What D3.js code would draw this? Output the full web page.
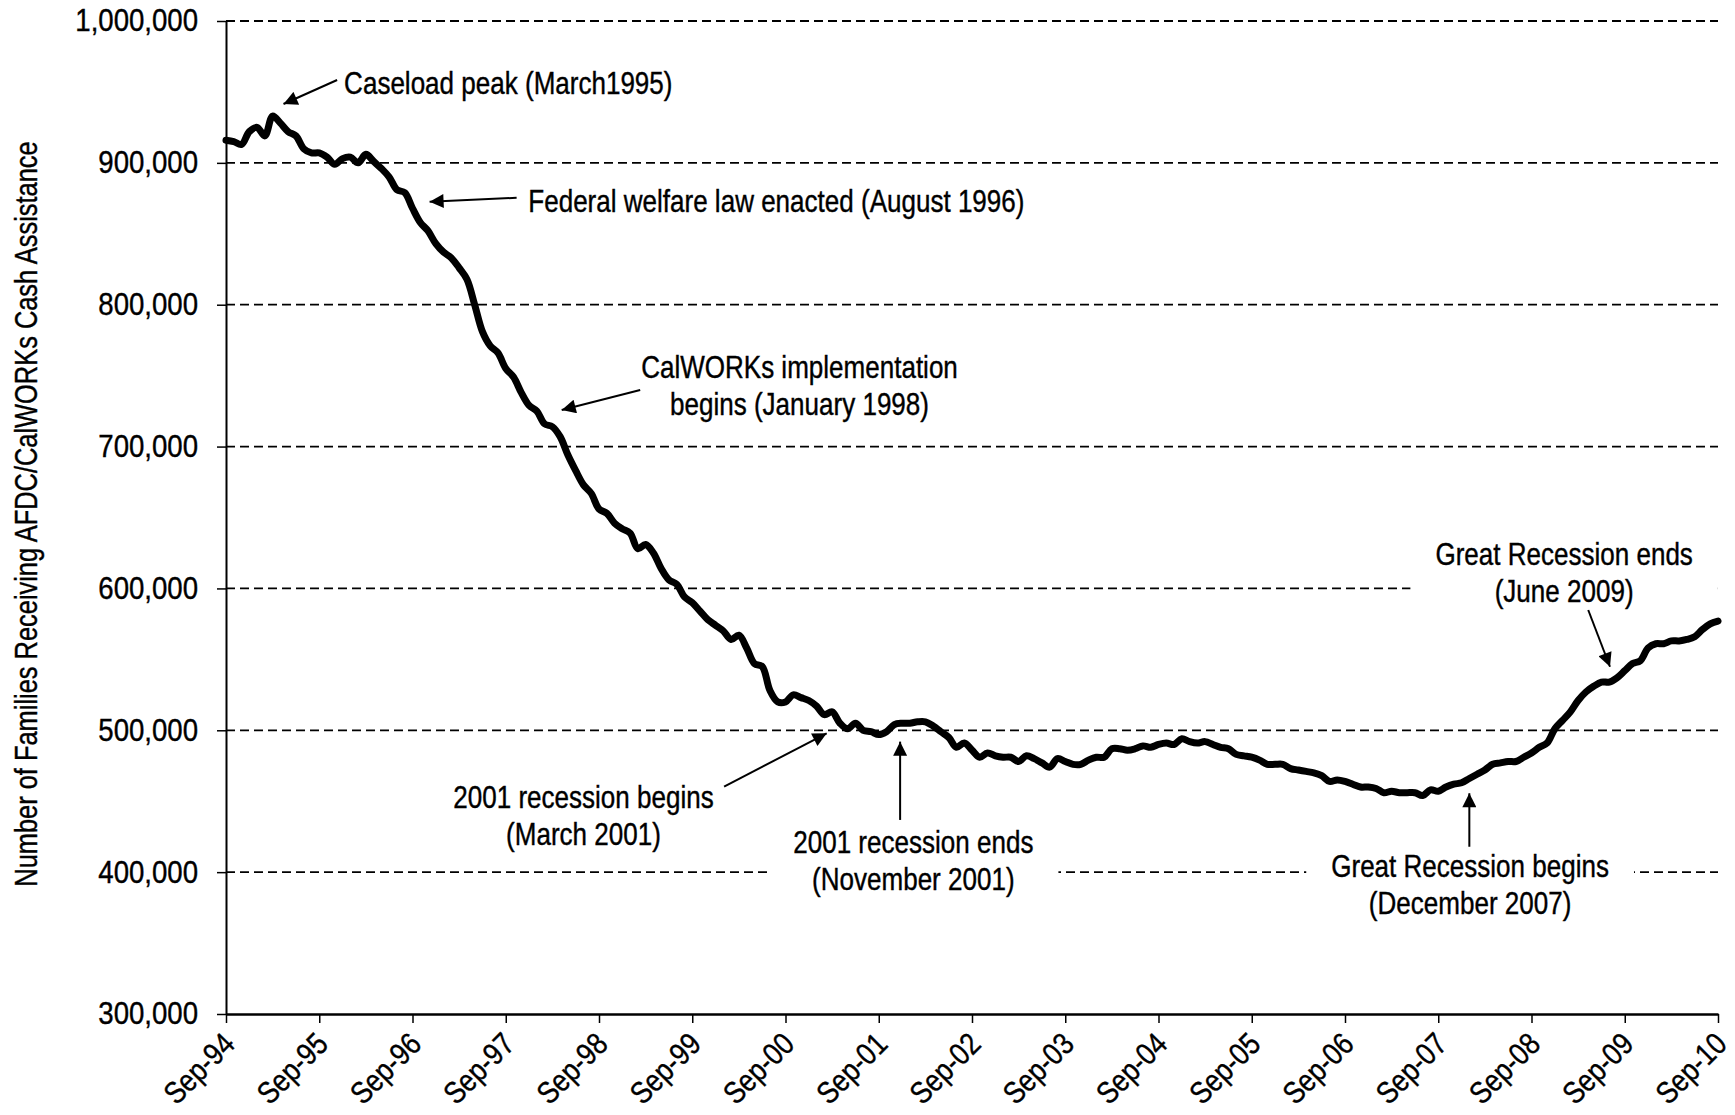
<!DOCTYPE html>
<head>
<meta charset="utf-8">
<script src="https://d3js.org/d3.v7.min.js"></script>
</head>
<style>
body { margin: 0; background: #fff; }
text { font-family: "Liberation Sans Narrow", "Arial Narrow", "Liberation Sans", sans-serif; fill: #000; font-size: 31px;
       stroke: #000; stroke-width: 0.4px; }
.grid line { stroke: #000; stroke-width: 1.8px; stroke-dasharray: 9,5; }
.line { fill: none; stroke: #000; stroke-width: 7px; stroke-linejoin: round; stroke-linecap: round; }
.arrow { stroke: #000; stroke-width: 2px; }
.axis path, .axis line { stroke: #000; }
</style>
<body>
<script>
// families on AFDC/CalWORKs, monthly from Sep-94 to Sep-10 (thousands)
var caseload = [
  916, 915, 913, 922, 925, 919, 933, 928, 922, 919, 910, 907,
  907, 904, 899, 903, 904, 900, 906, 901, 896, 890, 881, 879,
  868, 858, 852, 843, 837, 833, 826, 818, 800, 781, 771, 766,
  755, 749, 738, 729, 725, 716, 714, 707, 694, 683, 673, 667,
  656, 653, 646, 642, 639, 628, 631, 625, 614, 606, 603, 594,
  590, 584, 578, 574, 570, 564, 567, 558, 547, 545, 528, 520,
  520, 525, 523, 521, 517, 511, 513, 505, 501, 505, 500, 499,
  497, 499, 504, 505, 505, 506, 506, 503, 499, 495, 488, 491,
  486, 481, 484, 482, 481, 481, 478, 482, 480, 477, 474, 480,
  478, 476, 476, 479, 481, 481, 487, 487, 486, 487, 489, 488,
  490, 491, 490, 494, 492, 491, 492, 490, 488, 487, 483, 482,
  481, 479, 476, 476, 476, 473, 472, 471, 470, 468, 464, 465,
  464, 462, 460, 460, 459, 456, 457, 456, 456, 456, 454, 458,
  457, 460, 462, 463, 466, 469, 472, 476, 477, 478, 478, 481,
  484, 488, 491, 501, 507, 513, 521, 527, 531, 534, 534, 537,
  542, 547, 549, 558, 561, 561, 563, 563, 564, 566, 571, 575,
  577
];
var tickLabels = ["Sep-94","Sep-95","Sep-96","Sep-97","Sep-98","Sep-99","Sep-00","Sep-01","Sep-02",
                  "Sep-03","Sep-04","Sep-05","Sep-06","Sep-07","Sep-08","Sep-09","Sep-10"];
var yTicks = [300000, 400000, 500000, 600000, 700000, 800000, 900000, 1000000];

// annotations: month index / value of text and arrow
var notes = [
  {lines: ["Caseload peak (March1995)"], m: 15.2, v: 948200, anchor: "start", box: false,
   from: [14.3, 958400], to: [7.4, 941500]},
  {lines: ["Federal welfare law enacted (August 1996)"], m: 38.9, v: 865200, anchor: "start", box: false,
   from: [37.4, 875400], to: [26.2, 872600]},
  {lines: ["CalWORKs implementation", "begins (January 1998)"], m: 73.8, v: 748300, anchor: "middle", box: false,
   from: [53.3, 739900], to: [43.2, 725800]},
  {lines: ["2001 recession begins", "(March 2001)"], m: 46.0, v: 445500, anchor: "middle", box: false,
   from: [64.1, 460300], to: [77.3, 497900]},
  {lines: ["2001 recession ends", "(November 2001)"], m: 88.45, v: 413200, anchor: "middle", box: true,
   from: [86.75, 436800], to: [86.75, 492000]},
  {lines: ["Great Recession begins", "(December 2007)"], m: 160.1, v: 396300, anchor: "middle", box: true,
   from: [160, 417900], to: [160, 455600]},
  {lines: ["Great Recession ends", "(June 2009)"], m: 172.2, v: 616500, anchor: "middle", box: true,
   from: [175.3, 584800], to: [178.1, 544800]}
];

var W = 1735, H = 1115;
var margin = {top: 21, right: 17, bottom: 101, left: 226},
    width = W - margin.left - margin.right,
    height = H - margin.top - margin.bottom;

// the original type is a condensed face; squeeze the installed sans to match
var narrowNote = 0.84, narrowNum = 0.89, narrowTick = 0.85, narrowTitle = 0.82;

var x = d3.scaleLinear().domain([0, caseload.length - 1]).range([0, width]);
var y = d3.scaleLinear().domain([300000, 1000000]).range([height, 0]);

var svg = d3.select("body").append("svg")
    .attr("width", W)
    .attr("height", H)
  .append("g")
    .attr("transform", "translate(" + margin.left + "," + margin.top + ")");

// dashed gridlines
svg.append("g").attr("class", "grid")
  .selectAll("line")
  .data(yTicks.filter(function(d) { return d > 300000; }))
  .enter().append("line")
    .attr("x1", 0).attr("x2", width)
    .attr("y1", function(d) { return y(d); })
    .attr("y2", function(d) { return y(d); });

// annotation text, some with a white box that hides the gridline
var lineH = 37;
var noteG = svg.append("g");
notes.forEach(function(n) {
  var g = noteG.append("g")
      .attr("transform", "translate(" + x(n.m) + "," + y(n.v) + ")");
  var t = g.append("text")
      .attr("transform", "scale(" + narrowNote + ",1)")
      .attr("text-anchor", n.anchor);
  t.selectAll("tspan").data(n.lines).enter().append("tspan")
      .attr("x", 0)
      .attr("dy", function(d, i) { return i ? lineH : 0; })
      .text(function(d) { return d; });
  if (n.box) {
    var bb = g.node().getBBox();
    g.insert("rect", "text")
      .attr("x", bb.x - 25).attr("y", bb.y - 4)
      .attr("width", bb.width + 50).attr("height", bb.height + 8)
      .attr("fill", "#fff");
  }
});

// arrows
svg.append("defs").append("marker")
    .attr("id", "head")
    .attr("viewBox", "0 0 10 10")
    .attr("refX", 10).attr("refY", 5)
    .attr("markerWidth", 8).attr("markerHeight", 7)
    .attr("markerUnits", "strokeWidth")
    .attr("orient", "auto")
  .append("path")
    .attr("d", "M0,0L10,5L0,10Z")
    .attr("fill", "#000");

svg.append("g").selectAll("line")
  .data(notes)
  .enter().append("line")
    .attr("class", "arrow")
    .attr("x1", function(d) { return x(d.from[0]); })
    .attr("y1", function(d) { return y(d.from[1]); })
    .attr("x2", function(d) { return x(d.to[0]); })
    .attr("y2", function(d) { return y(d.to[1]); })
    .attr("marker-end", "url(#head)");

// caseload line
var valueline = d3.line()
    .x(function(d, i) { return x(i); })
    .y(function(d) { return y(d * 1000); })
    .curve(d3.curveCatmullRom);

svg.append("path")
    .datum(caseload)
    .attr("class", "line")
    .attr("d", valueline);

// axes
var yAxis = svg.append("g").attr("class", "axis")
    .call(d3.axisLeft(y).tickValues(yTicks).tickFormat(d3.format(",")).tickSize(9).tickSizeOuter(0));
yAxis.select(".domain").style("stroke-width", "2px");
yAxis.selectAll(".tick line").style("stroke-width", "1.5px");
yAxis.selectAll("text")
    .style("font-size", "31px")
    .attr("x", 0)
    .attr("transform", "translate(-28,0) scale(" + narrowNum + ",1)");

var xAxis = svg.append("g").attr("class", "axis")
    .attr("transform", "translate(0," + height + ")")
    .call(d3.axisBottom(x).tickValues(d3.range(0, caseload.length, 12))
      .tickFormat(function(d) { return tickLabels[d / 12]; }).tickSize(9).tickSizeOuter(0));
xAxis.select(".domain").style("stroke-width", "2.5px");
xAxis.selectAll(".tick line").style("stroke-width", "1.5px");
xAxis.selectAll("text")
    .style("font-size", "31px")
    .style("text-anchor", "end")
    .attr("x", 0).attr("y", 0).attr("dy", 0)
    .attr("transform", "translate(10,32) rotate(-45) scale(" + narrowTick + ",1)");

// y axis title
svg.append("text")
    .attr("transform", "translate(" + (37 - margin.left) + "," + (514 - margin.top) + ") rotate(-90) scale(" + narrowTitle + ",1)")
    .attr("text-anchor", "middle")
    .style("font-size", "31px")
    .text("Number of Families Receiving AFDC/CalWORKs Cash Assistance");
</script>
</body>
